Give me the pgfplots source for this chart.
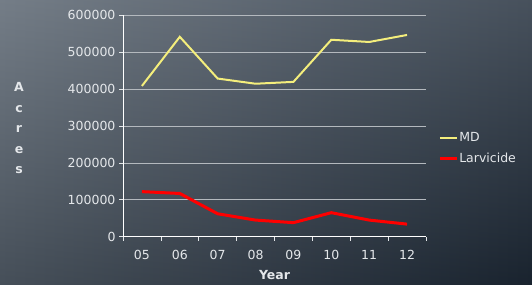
\documentclass[border=0pt]{standalone}
\usepackage{pgfplots}
\pgfplotsset{compat=1.18}
\usepackage{fontspec}
\setmainfont{DejaVu Sans}
\definecolor{bgL}{HTML}{56616D}
\definecolor{bgM}{HTML}{66717D}
\definecolor{bgR}{HTML}{1F2B39}
\definecolor{txt}{HTML}{E4E7EA}
\definecolor{gridc}{HTML}{B4B9BE}
\definecolor{mdc}{HTML}{F4EE7C}
\definecolor{larc}{HTML}{FF0000}
\begin{document}
\begin{tikzpicture}
\shade[left color=bgL, middle color=bgM, right color=bgR] (0pt,0pt) rectangle (532pt,284pt);
\shade[top color=black!0, bottom color=black, opacity=0.18] (0pt,0pt) rectangle (532pt,284pt);
\begin{axis}[
  at={(123pt,47.3pt)}, anchor=south west,
  scale only axis, width=303pt, height=221.7pt,
  xmin=-0.5, xmax=7.5, ymin=0, ymax=600000,
  xtick={-0.5,0.5,...,7.5},
  x tick label as interval,
  xticklabels={05,06,07,08,09,10,11,12},
  ytick={0,100000,...,600000},
  scaled y ticks=false,
  yticklabel={\pgfmathprintnumber[fixed,precision=0,1000 sep={}]{\tick}},
  tick align=outside,
  major tick length=4pt,
  tick style={color=txt, line width=0.6pt},
  axis x line*=bottom, axis y line*=left,
  axis line style={color=white, line width=0.9pt, -},
  ymajorgrids, grid style={color=gridc, line width=0.6pt},
  ticklabel style={color=txt, font=\fontsize{12.5}{15}\selectfont},
  xticklabel style={yshift=-6pt},
  /pgf/number format/assume math mode=true,
  xlabel={Year},
  xlabel style={color=txt, font=\bfseries\fontsize{12.5}{15}\selectfont, yshift=-4pt},
  ylabel={A\\c\\r\\e\\s},
  ylabel style={rotate=-90, align=center, color=txt, font=\bfseries\fontsize{12.5}{20.5}\selectfont, at={(axis description cs:-0.343,0.488)}, anchor=center},
  legend style={draw=none, fill=none, at={(axis description cs:1.03,0.398)}, anchor=west,
    font=\fontsize{12.5}{15}\selectfont, text=txt, row sep=8pt, nodes={inner sep=1pt}},
  legend cell align=left,
  legend image code/.code={\draw[#1] (0pt,0pt) -- (17pt,0pt);},
  clip=false,
]
\addplot[color=mdc, line width=2pt] coordinates {
 (0,408000) (1,541000) (2,428000) (3,414000) (4,419000) (5,533000) (6,527000) (7,546000)};
\addlegendentry{MD}
\addplot[color=larc, line width=3pt] coordinates {
 (0,122000) (1,117000) (2,62000) (3,45000) (4,38000) (5,65000) (6,45000) (7,34000)};
\addlegendentry{Larvicide}
\end{axis}
\pgfresetboundingbox
\path (0pt,0pt) rectangle (532pt,284pt);
\end{tikzpicture}
\end{document}
